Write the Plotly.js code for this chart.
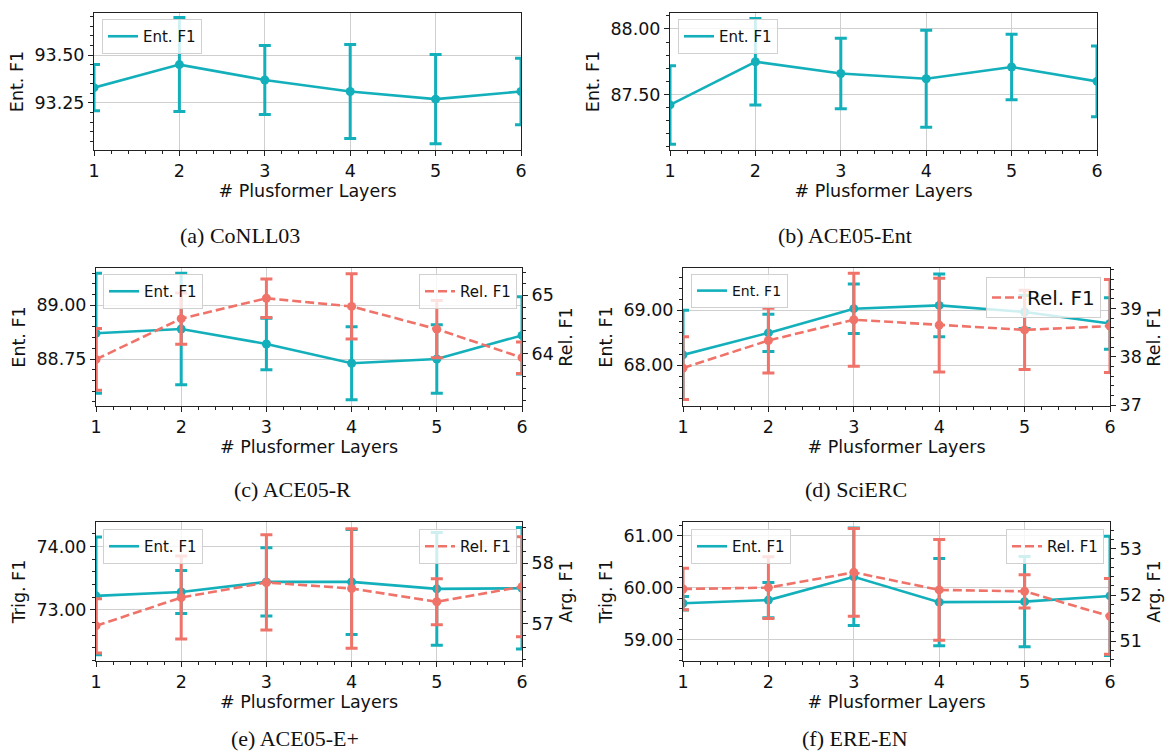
<!DOCTYPE html>
<html>
<head>
<meta charset="utf-8">
<script src="https://cdn.plot.ly/plotly-3.0.1.min.js"></script>
<style>html,body{margin:0;padding:0;background:#fff;}#chart{width:1171px;height:754px;}</style>
</head>
<body>
<div id="chart"></div>
<script>
// ---------------- DATA ----------------
const layers = [1, 2, 3, 4, 5, 6];
const xTitle = '# Plusformer Layers';

const conllEnt      = [93.33, 93.45, 93.37, 93.31, 93.27, 93.31];
const conllEntErr   = [0.12, 0.245, 0.18, 0.245, 0.233, 0.173];

const aceEntEnt     = [87.42, 87.75, 87.66, 87.62, 87.71, 87.60];
const aceEntEntErr  = [0.30, 0.33, 0.27, 0.37, 0.25, 0.27];

const aceREnt       = [88.87, 88.89, 88.82, 88.73, 88.75, 88.86];
const aceREntErr    = [0.28, 0.26, 0.12, 0.17, 0.16, 0.18];
const aceRRel       = [63.90, 64.60, 64.95, 64.81, 64.42, 63.93];
const aceRRelErr    = [0.53, 0.44, 0.33, 0.56, 0.49, 0.27];

const sciEnt        = [68.19, 68.59, 69.03, 69.09, 68.97, 68.76];
const sciEntErr     = [0.81, 0.34, 0.45, 0.57, 0.30, 0.47];
const sciRel        = [37.77, 38.34, 38.77, 38.66, 38.56, 38.64];
const sciRelErr     = [0.65, 0.67, 0.96, 0.97, 0.82, 0.96];

const aceETrig      = [73.22, 73.28, 73.44, 73.44, 73.33, 73.34];
const aceETrigErr   = [0.93, 0.34, 0.54, 0.83, 0.89, 0.96];
const aceEArg       = [56.96, 57.43, 57.68, 57.58, 57.36, 57.61];
const aceEArgErr    = [0.45, 0.69, 0.79, 0.99, 0.38, 0.83];

const ereTrig       = [59.70, 59.76, 60.21, 59.72, 59.73, 59.84];
const ereTrigErr    = [0.13, 0.34, 0.94, 0.84, 0.87, 1.15];
const ereArg        = [52.13, 52.16, 52.49, 52.11, 52.08, 51.54];
const ereArgErr     = [0.45, 0.67, 0.95, 1.09, 0.36, 0.82];

const captions = ['(a) CoNLL03', '(b) ACE05-Ent', '(c) ACE05-R', '(d) SciERC', '(e) ACE05-E+', '(f) ERE-EN'];

// ---------------- STYLE / LAYOUT ----------------
const W = 1171, H = 754;
const px = v => v / W;
const py = v => 1 - v / H;
const TEAL = '#13b0bb';
const RED = '#f0736a';
const FONT = 'DejaVu Sans, sans-serif';
const TICK = 17.5;

const traces = [];
function addSeries(y, err, color, dash, name, xa, ya, legend) {
  traces.push({x: layers, y: y, mode: 'lines', name: name, legend: legend,
    line: {color: color, width: 2.6, dash: dash}, xaxis: xa, yaxis: ya, hoverinfo: 'skip'});
  traces.push({x: layers, y: y, mode: 'markers', showlegend: false,
    marker: {color: color, size: 9},
    error_y: {type: 'data', array: err, visible: true, color: color, thickness: 3, width: 6},
    xaxis: xa, yaxis: ya, hoverinfo: 'skip'});
}

addSeries(conllEnt, conllEntErr, TEAL, 'solid', 'Ent. F1', 'x', 'y', 'legend');
addSeries(aceEntEnt, aceEntEntErr, TEAL, 'solid', 'Ent. F1', 'x2', 'y2', 'legend2');
addSeries(aceREnt, aceREntErr, TEAL, 'solid', 'Ent. F1', 'x3', 'y3', 'legend3');
addSeries(aceRRel, aceRRelErr, RED, '9px,4px', 'Rel. F1', 'x3', 'y4', 'legend4');
addSeries(sciEnt, sciEntErr, TEAL, 'solid', 'Ent. F1', 'x4', 'y5', 'legend5');
addSeries(sciRel, sciRelErr, RED, '9px,4px', 'Rel. F1', 'x4', 'y6', 'legend6');
addSeries(aceETrig, aceETrigErr, TEAL, 'solid', 'Ent. F1', 'x5', 'y7', 'legend7');
addSeries(aceEArg, aceEArgErr, RED, '9px,4px', 'Rel. F1', 'x5', 'y8', 'legend8');
addSeries(ereTrig, ereTrigErr, TEAL, 'solid', 'Ent. F1', 'x6', 'y9', 'legend9');
addSeries(ereArg, ereArgErr, RED, '9px,4px', 'Rel. F1', 'x6', 'y10', 'legend10');

const common = {
  showline: true, linecolor: '#222', linewidth: 1, mirror: true,
  ticks: 'outside', ticklen: 5, tickwidth: 1, tickcolor: '#222',
  zeroline: false, gridcolor: '#cfcfcf', gridwidth: 1,
  tickfont: {family: FONT, size: TICK, color: '#111'}, automargin: false
};
function xaxis(l, r, yref) {
  return Object.assign({}, common, {
    domain: [px(l), px(r)], anchor: yref, range: [1, 6], tick0: 1, dtick: 1, showgrid: true,
    minor: {dtick: 0.2, tick0: 1, ticks: 'outside', ticklen: 3, tickcolor: '#222', showgrid: false},
    title: {text: xTitle, font: {family: FONT, size: TICK, color: '#111'}, standoff: 4}
  });
}
function yaxis(t, b, xref, range, dtick, minor, fmt, title) {
  return Object.assign({}, common, {
    domain: [py(b), py(t)], anchor: xref, range: range, dtick: dtick, tickformat: fmt, showgrid: true,
    minor: {dtick: minor, ticks: 'outside', ticklen: 3, tickcolor: '#222', showgrid: false},
    title: {text: title, font: {family: FONT, size: TICK, color: '#111'}, standoff: 6}
  });
}
function y2axis(over, xref, range, dtick, minor, title) {
  return Object.assign({}, common, {
    overlaying: over, side: 'right', anchor: xref, range: range, dtick: dtick, showgrid: false, mirror: false,
    minor: {dtick: minor, ticks: 'outside', ticklen: 3, tickcolor: '#222', showgrid: false},
    title: {text: title, font: {family: FONT, size: TICK, color: '#111'}, standoff: 6}
  });
}
function legend(x, y, xanchor, size) {
  return {x: px(x), y: py(y), xanchor: xanchor, yanchor: 'top', xref: 'paper', yref: 'paper',
    bgcolor: 'rgba(255,255,255,0.8)', bordercolor: '#d0d0d0', borderwidth: 1,
    font: {family: FONT, size: size || 15, color: '#111'}};
}

const layout = {
  width: W, height: H, margin: {l: 0, r: 0, t: 0, b: 0},
  paper_bgcolor: '#fff', plot_bgcolor: '#fff', showlegend: true,
  font: {family: FONT, color: '#111'},
  xaxis: xaxis(94, 521, 'y'),
  yaxis: yaxis(13, 150, 'x', [93.005, 93.719], 0.25, 0.05, '.2f', 'Ent. F1'),
  xaxis2: xaxis(670, 1097, 'y2'),
  yaxis2: yaxis(13, 150, 'x2', [87.076, 88.122], 0.5, 0.1, '.2f', 'Ent. F1'),
  xaxis3: xaxis(96, 522, 'y3'),
  yaxis3: yaxis(268, 406, 'x3', [88.531, 89.174], 0.25, 0.05, '.2f', 'Ent. F1'),
  yaxis4: y2axis('y3', 'x3', [63.10, 65.47], 1, 0.2, 'Rel. F1'),
  xaxis4: xaxis(683, 1110, 'y5'),
  yaxis5: yaxis(268, 406, 'x4', [67.26, 69.77], 1, 0.2, '.2f', 'Ent. F1'),
  yaxis6: y2axis('y5', 'x4', [36.986, 39.84], 1, 0.2, 'Rel. F1'),
  xaxis5: xaxis(96, 522, 'y7'),
  yaxis7: yaxis(522, 661, 'x5', [72.19, 74.387], 1, 0.2, '.2f', 'Trig. F1'),
  yaxis8: y2axis('y7', 'x5', [56.377, 58.683], 1, 0.2, 'Arg. F1'),
  xaxis6: xaxis(683, 1110, 'y9'),
  yaxis9: yaxis(522, 661, 'x6', [58.586, 61.265], 1, 0.2, '.2f', 'Trig. F1'),
  yaxis10: y2axis('y9', 'x6', [50.572, 53.58], 1, 0.2, 'Arg. F1'),
  legend: legend(102, 19, 'left'),
  legend2: legend(678, 19, 'left'),
  legend3: legend(103, 274, 'left'),
  legend4: legend(517, 274, 'right'),
  legend5: legend(691, 274, 'left', 14),
  legend6: legend(1101, 277, 'right', 20),
  legend7: legend(103, 529, 'left'),
  legend8: legend(517, 529, 'right'),
  legend9: legend(691, 529, 'left'),
  legend10: legend(1104, 529, 'right'),
  annotations: []
};

const capPos = [[240, 235], [845, 235], [292, 489], [856, 489], [295, 738], [855, 738]];
captions.forEach((c, i) => {
  layout.annotations.push({text: c, xref: 'paper', yref: 'paper', x: px(capPos[i][0]), y: py(capPos[i][1]),
    xanchor: 'center', yanchor: 'middle', showarrow: false, borderpad: 0,
    font: {family: 'Liberation Serif, Times New Roman, serif', size: 22, color: '#111'}});
});

Plotly.newPlot('chart', traces, layout, {staticPlot: true, displayModeBar: false});
</script>
</body>
</html>
